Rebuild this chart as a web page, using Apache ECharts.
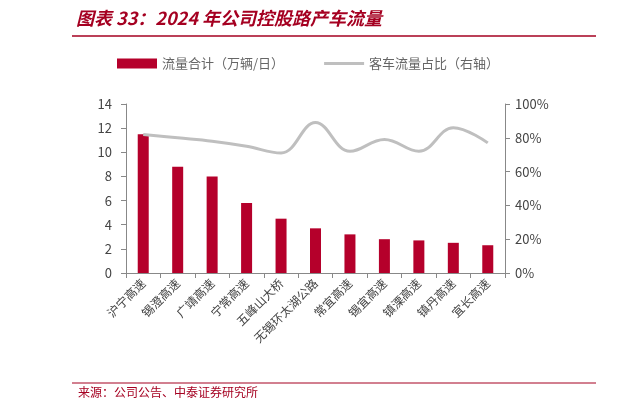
<!DOCTYPE html>
<html><head><meta charset="utf-8">
<script src="https://cdn.jsdelivr.net/npm/echarts@6/dist/echarts.min.js"></script>
<style>body{margin:0;background:#fff}#c{width:621px;height:412px}</style>
</head><body><div id="c"></div>
<script>
// 2024 年公司控股路产车流量
const roads = ['沪宁高速','锡澄高速','广靖高速','宁常高速','五峰山大桥','无锡环太湖公路','常宜高速','锡宜高速','镇溧高速','镇丹高速','宜长高速'];
const flow = [11.5, 8.8, 8.0, 5.8, 4.5, 3.7, 3.2, 2.8, 2.7, 2.5, 2.3];
const carShare = [82, 80, 78, 75, 71, 89, 72, 79, 72, 86, 77];

const font = '"Noto Sans CJK SC", sans-serif';
const chart = echarts.init(document.getElementById('c'));
chart.setOption({
  animation: false,
  textStyle: { fontFamily: font },
  graphic: [
    { type: 'text', left: 76, top: 9, style: { text: '图表 33：2024 年公司控股路产车流量', fill: '#a50021', font: 'italic bold 18px ' + font } },
    { type: 'line', shape: { x1: 72, y1: 36, x2: 596, y2: 36 }, style: { stroke: '#a50021', lineWidth: 1.5 } },
    { type: 'line', shape: { x1: 72, y1: 383, x2: 596, y2: 383 }, style: { stroke: '#a50021', lineWidth: 1 } },
    { type: 'text', left: 78, top: 386, style: { text: '来源：公司公告、中泰证券研究所', fill: '#a50021', font: '12px ' + font } }
  ],
  legend: {
    top: 52, left: 112, itemGap: 40, itemWidth: 40, itemHeight: 10,
    textStyle: { color: '#666', fontSize: 13, fontFamily: font },
    data: [
      { name: '流量合计（万辆/日）', icon: 'rect' },
      { name: '客车流量占比（右轴）', icon: 'path://M0,0L40,0L40,3L0,3Z' }
    ]
  },
  grid: { left: 126, right: 116, top: 104, bottom: 139 },
  xAxis: {
    type: 'category', data: roads,
    axisLine: { lineStyle: { color: '#888' } },
    axisTick: { show: true, lineStyle: { color: '#888' } },
    axisLabel: { rotate: 45, color: '#444', fontSize: 12, interval: 0, margin: 8 }
  },
  yAxis: [
    { type: 'value', min: 0, max: 14, interval: 2, splitLine: { show: false },
      axisLine: { show: true, lineStyle: { color: '#888' } }, axisTick: { show: true },
      axisLabel: { color: '#444', fontSize: 13, margin: 14 } },
    { type: 'value', min: 0, max: 100, interval: 20, splitLine: { show: false },
      axisLine: { show: true, lineStyle: { color: '#888' } }, axisTick: { show: true },
      axisLabel: { color: '#444', fontSize: 13, formatter: '{value}%', margin: 10 } }
  ],
  series: [
    { name: '流量合计（万辆/日）', type: 'bar', data: flow, barWidth: 11, itemStyle: { color: '#b5002b' } },
    { name: '客车流量占比（右轴）', type: 'line', yAxisIndex: 1, data: carShare, smooth: 0.4,
      symbol: 'none', lineStyle: { color: '#bfbfbf', width: 3 }, itemStyle: { color: '#bfbfbf' } }
  ]
});
</script></body></html>
